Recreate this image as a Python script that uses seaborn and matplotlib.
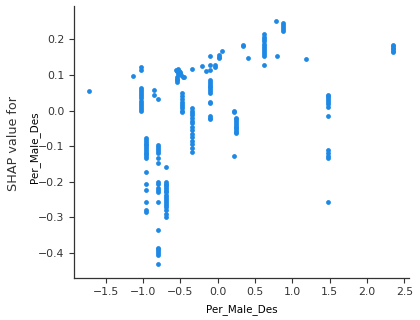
import numpy as np
import pandas as pd
import matplotlib
matplotlib.use("Agg")
import matplotlib.pyplot as plt
import seaborn as sns

# feature value (x) and the SHAP values observed at it, one list per column of dots
col_x = [-1.72, -1.13, -1.03, -0.96, -0.85, -0.80, -0.80, -0.70,
         -0.48, -0.345, -0.345, -0.215, -0.16, -0.11, -0.04, 0.01, 0.06,
         0.22, 0.25, 0.34, 0.40, 0.62, 0.78, 0.80, 0.88, 1.18, 1.48, 2.354]
col_shap = [
    [0.055],
    [0.096],
    [0.123, 0.114, 0.064, 0.058, 0.052, 0.046, 0.040, 0.034, 0.028, 0.022, 0.016, 0.010, 0.004, 0.000],
    [-0.078, -0.083, -0.088, -0.093, -0.098, -0.103, -0.108, -0.113, -0.118, -0.123, -0.128, -0.134,
     -0.172, -0.205, -0.223, -0.256, -0.280, -0.285],
    [0.058, 0.044],
    [0.032],
    [-0.097, -0.102, -0.108, -0.114, -0.120, -0.134, -0.147, -0.200, -0.205, -0.218, -0.224, -0.230,
     -0.256, -0.336, -0.385, -0.390, -0.395, -0.400, -0.405, -0.430],
    [-0.158, -0.200, -0.205, -0.210, -0.215, -0.220, -0.225, -0.230, -0.236, -0.242, -0.248, -0.254,
     -0.260, -0.266, -0.272, -0.280, -0.290, -0.298],
    [0.048, 0.040, 0.033, 0.025, 0.018, 0.012, 0.006, 0.000, -0.003],
    [0.118],
    [0.006, 0.000, -0.006, -0.012, -0.020, -0.028, -0.036, -0.045, -0.055, -0.065, -0.075, -0.085,
     -0.095, -0.105, -0.116],
    [0.125],
    [0.111],
    [0.154, 0.128, 0.113, 0.086, 0.080, 0.075, 0.070, 0.065, 0.060, 0.055, 0.050, 0.025, 0.020,
     -0.015, -0.020, -0.025],
    [0.128, 0.123],
    [0.156, 0.151, 0.147],
    [0.167],
    [0.000, -0.005, -0.128],
    [-0.020, -0.025, -0.030, -0.035, -0.040, -0.045, -0.050, -0.055, -0.060, -0.064],
    [0.184, 0.180],
    [0.147],
    [0.215, 0.208, 0.200, 0.194, 0.188, 0.182, 0.176, 0.170, 0.164, 0.158, 0.153, 0.128],
    [0.251],
    [0.153],
    [0.245, 0.240, 0.235, 0.230, 0.224],
    [0.144],
    [0.045, 0.040, 0.035, 0.030, 0.025, 0.018, 0.011, -0.015, -0.111, -0.120, -0.127, -0.134, -0.258],
    [0.184, 0.180, 0.176, 0.172, 0.168, 0.165],
]

# the blob of points around x = -0.5, y = 0.1
blob_x = [-0.56, -0.55, -0.54, -0.53, -0.52, -0.51, -0.50, -0.49, -0.47, -0.45, -0.55, -0.55, -0.55, -0.54, -0.53]
blob_shap = [0.115, 0.110, 0.112, 0.116, 0.111, 0.108, 0.105, 0.100, 0.095, 0.094, 0.095, 0.090, 0.085, 0.081, 0.103]

feature_name = "Per_Male_Des"
x_ticks = [-1.5, -1.0, -0.5, 0.0, 0.5, 1.0, 1.5, 2.0, 2.5]
y_ticks = [-0.4, -0.3, -0.2, -0.1, 0.0, 0.1, 0.2]

rows = []
for xv, ys in zip(col_x, col_shap):
    for yv in ys:
        rows.append((xv, yv))
rows += list(zip(blob_x, blob_shap))
df = pd.DataFrame(rows, columns=["feature", "shap"])

axis_color = "#333333"
fig = plt.figure(figsize=(4.2, 3.2), dpi=100)
ax = fig.add_axes([0.177, 0.132, 0.797, 0.849])

sns.scatterplot(data=df, x="feature", y="shap", color="#1E88E5", s=12, linewidth=0, ax=ax)

ax.set_xlim(-1.922, 2.564)
ax.set_ylim(-0.4697, 0.2935)
ax.set_xticks(x_ticks)
ax.set_yticks(y_ticks)
ax.set_xticklabels([f"{t:.1f}".replace("-", "\u2212") for t in x_ticks])
ax.set_yticklabels([f"{t:.1f}".replace("-", "\u2212") for t in y_ticks])
ax.tick_params(colors=axis_color, labelcolor=axis_color, labelsize=7.8, length=3.5, width=0.8)
for side in ["top", "right"]:
    ax.spines[side].set_visible(False)
for side in ["left", "bottom"]:
    ax.spines[side].set_color(axis_color)
    ax.spines[side].set_linewidth(0.9)

ax.set_xlabel(feature_name, fontsize=7.5, color="black", labelpad=5)
ax.set_ylabel("")
fig.text(0.031, 0.553, "SHAP value for", rotation=90, ha="center", va="center",
         fontsize=9.2, color=axis_color)
fig.text(0.083, 0.539, feature_name, rotation=90, ha="center", va="center",
         fontsize=7.5, color="black")

fig.savefig("out.png", dpi=100, facecolor="white")
